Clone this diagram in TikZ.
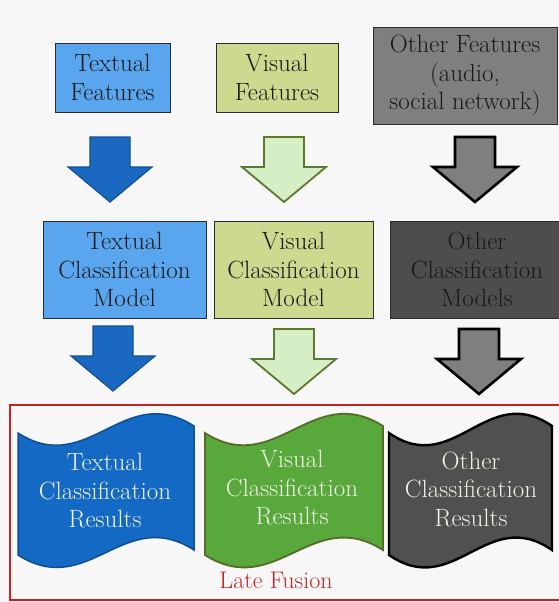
\documentclass[tikz,border=0pt]{standalone}
\usetikzlibrary{positioning}
\definecolor{bgc}{HTML}{F7F7F7}
\definecolor{tbox}{HTML}{5AA6EE}
\definecolor{vbox}{HTML}{CBDA8F}
\definecolor{obox}{HTML}{7F7F7F}
\definecolor{odark}{HTML}{4D4D4D}
\definecolor{boxline}{HTML}{2B2B2B}
\definecolor{barrow}{HTML}{1A68C2}
\definecolor{barrowline}{HTML}{11508F}
\definecolor{garrow}{HTML}{D5EEC6}
\definecolor{garrowline}{HTML}{5B7A2E}
\definecolor{bwave}{HTML}{1469C5}
\definecolor{bwaveline}{HTML}{0E4E94}
\definecolor{gwave}{HTML}{58A83C}
\definecolor{gwaveline}{HTML}{566B28}
\definecolor{kwave}{HTML}{505050}
\definecolor{wtext}{HTML}{EFF3E2}
\definecolor{fusred}{HTML}{CC1F22}
\definecolor{fustext}{HTML}{C0262C}
\tikzset{
  box/.style={draw=boxline, line width=0.8pt, align=center, inner sep=0pt,
    font=\fontsize{25}{28.5}\selectfont, text=black!90},
  wavetext/.style={align=center, inner sep=0pt, font=\fontsize{25}{28.5}\selectfont, text=wtext},
  blockarrow/.pic={
    \draw[pic actions, line join=miter] (-20,0) -- (20,0) -- (20,30) -- (42,30) -- (0,65)
      -- (-42,30) -- (-20,30) -- cycle;
  },
  bluearr/.style={fill=barrow, draw=barrowline, line width=1.2pt},
  greenarr/.style={fill=garrow, draw=garrowline, line width=1.8pt},
  grayarr/.style={fill=obox, draw=black, line width=2.6pt},
}
\newcommand{\wavepath}[2]{%
  (#1,433) .. controls ({#1+0.4*(#2-#1)},478) and ({#1+0.6*(#2-#1)},381) .. (#2,426)
  -- (#2,550) .. controls ({#1+0.6*(#2-#1)},505) and ({#1+0.4*(#2-#1)},600) .. (#1,555) -- cycle}
\begin{document}
\begin{tikzpicture}[x=1pt,y=-1pt]
\fill[bgc] (0,0) rectangle (559,602);
\useasboundingbox (0,0) rectangle (559,602);
\clip (0,0) rectangle (559,602);
% top row
\node[box, fill=tbox, minimum width=115pt, minimum height=69pt] (tf) at (112.5,77.5) {Textual\\Features};
\node[box, fill=vbox, minimum width=122pt, minimum height=69pt] (vf) at (277,77.5) {Visual\\Features};
\node[box, fill=obox, minimum width=184pt, minimum height=97pt] (of) at (465,75.5) {Other Features\\(audio,\\social network)};
% arrows row 1
\pic[bluearr] at (110,137) {blockarrow};
\pic[greenarr] at (284,137) {blockarrow};
\pic[grayarr] at (475,137) {blockarrow};
% middle row
\node[box, fill=tbox, minimum width=163pt, minimum height=97pt] (tm) at (124.5,269.5) {Textual\\Classification\\Model};
\node[box, fill=vbox, minimum width=159pt, minimum height=97pt] (vm) at (293.5,269.5) {Visual\\Classification\\Model};
\node[box, fill=odark, minimum width=174pt, minimum height=97pt] (om) at (477,269.5) {Other\\Classification\\Models};
% arrows row 2
\pic[bluearr] at (113,326) {blockarrow};
\pic[greenarr] at (294,329) {blockarrow};
\pic[grayarr] at (479,329) {blockarrow};
% late fusion frame
\draw[fusred, line width=2.6pt] (10,405) rectangle (620,600);
% waves
\draw[fill=bwave, draw=bwaveline, line width=1.5pt] \wavepath{18}{194};
\draw[fill=gwave, draw=gwaveline, line width=1.8pt] \wavepath{205}{383};
\draw[fill=kwave, draw=black, line width=2.4pt] \wavepath{389}{552};
\node[wavetext] (tr) at (105,491) {Textual\\Classification\\Results};
\node[wavetext] (vr) at (292,488) {Visual\\Classification\\Results};
\node[wavetext] (or) at (471,489) {Other\\Classification\\Results};
\node[text=fustext, font=\fontsize{24}{28}\selectfont, inner sep=0pt] (lf) at (276,580) {Late Fusion};
\end{tikzpicture}
\end{document}
